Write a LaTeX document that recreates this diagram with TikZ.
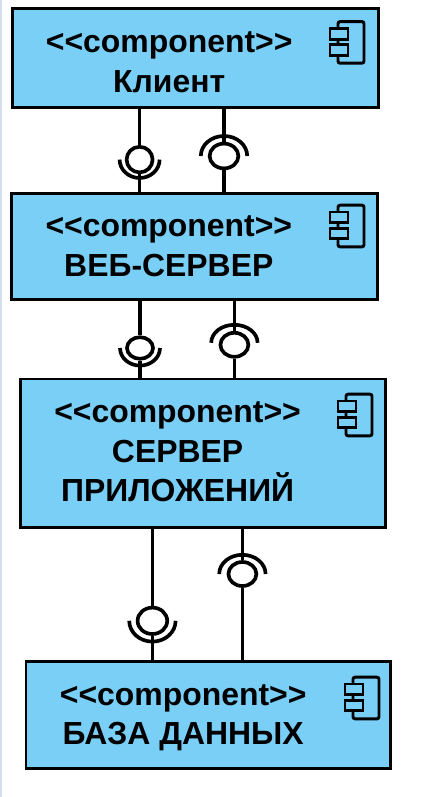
\documentclass[tikz,border=0pt]{standalone}
\usepackage{fontspec}
\setmainfont{Liberation Sans}
\usetikzlibrary{positioning, shapes.geometric}
\definecolor{compblue}{HTML}{7ACFF7}
\definecolor{edgestrip}{HTML}{D5DEEE}
\newcommand{\compstereo}{<{}<component>{}>}
\tikzset{
  box/.style = {rectangle, draw=black, fill=compblue, line width=2.1pt, inner sep=0pt},
  boxtext/.style = {align=center, font=\bfseries\fontsize{22.7}{28}\selectfont, inner sep=0pt},
  ball/.style = {ellipse, draw=black, line width=2.6pt, inner sep=0pt},
  wire/.style = {draw=black, line width=2.6pt},
  compicon/.pic = {
    \draw[line width=2.1pt, rounded corners=1.5pt] (-0.325,0.52) rectangle (0.325,-0.52);
    \draw[line width=2.1pt, fill=compblue] (-0.525,0.35) rectangle (-0.075,0.08);
    \draw[line width=2.1pt, fill=compblue] (-0.525,-0.06) rectangle (-0.075,-0.32);
  }
}

\begin{document}
\begin{tikzpicture}
\useasboundingbox (0,0) rectangle (10.775,-19.925);
\fill[edgestrip] (0,0) rectangle (0.05,-19.925);

% Boxes
\node[box, minimum width=9.15cm, minimum height=2.475cm] (n1) at (4.88,-1.44) {};
\node[box, minimum width=9.15cm, minimum height=2.65cm] (n2) at (4.87,-6.16) {};
\node[box, minimum width=9.12cm, minimum height=3.71cm] (n3) at (5.08,-11.33) {};
\node[box, minimum width=9.12cm, minimum height=2.68cm] (n4) at (5.21,-17.88) {};

% Box texts
\node[boxtext] (t1) at (4.23,-1.555) {\compstereo\\Клиент};
\node[boxtext] (t2) at (4.22,-6.16) {\compstereo\\ВЕБ-СЕРВЕР};
\node[boxtext] (t3) at (4.44,-11.3) {\compstereo\\СЕРВЕР\\ПРИЛОЖЕНИЙ};
\node[boxtext] (t4) at (4.58,-17.95) {\compstereo\\БАЗА ДАННЫХ};

% Icons
\pic at (8.775,-1.06) {compicon};
\pic at (8.775,-5.65) {compicon};
\pic at (8.975,-10.375) {compicon};
\pic at (9.15,-17.45) {compicon};

% Balls
\node[ball, minimum width=0.65cm, minimum height=0.64cm] (b1) at (3.49,-3.99) {};
\node[ball, minimum width=0.72cm, minimum height=0.62cm] (b2) at (5.6,-3.9) {};
\node[ball, minimum width=0.65cm, minimum height=0.54cm] (b3) at (3.5,-8.7) {};
\node[ball, minimum width=0.7cm, minimum height=0.6cm] (b4) at (5.86,-8.62) {};
\node[ball, minimum width=0.74cm, minimum height=0.66cm] (b5) at (3.81,-15.52) {};
\node[ball, minimum width=0.7cm, minimum height=0.6cm] (b6) at (6.06,-14.35) {};

% Sockets
\draw[wire] ([xshift=-0.5cm]b1.center) arc[start angle=180, end angle=360, x radius=0.5cm, y radius=0.46cm];
\draw[wire] ([xshift=-0.58cm]b2.center) arc[start angle=180, end angle=0, x radius=0.58cm, y radius=0.5cm];
\draw[wire] ([xshift=-0.5cm]b3.center) arc[start angle=180, end angle=360, x radius=0.5cm, y radius=0.44cm];
\draw[wire] ([xshift=-0.58cm,yshift=0.05cm]b4.center) arc[start angle=180, end angle=0, x radius=0.58cm, y radius=0.45cm];
\draw[wire] ([xshift=-0.58cm]b5.center) arc[start angle=180, end angle=360, x radius=0.58cm, y radius=0.52cm];
\draw[wire] ([xshift=-0.58cm]b6.center) arc[start angle=180, end angle=0, x radius=0.58cm, y radius=0.48cm];

% Wires
\draw[wire] (b1.north) -- (b1.north |- n1.south);
\draw[wire] (b1.south) -- (b1.south |- n2.north);
\draw[wire] (b2.north) -- (b2.north |- n1.south);
\draw[wire] (b2.south) -- (b2.south |- n2.north);
\draw[wire] (b3.north) -- (b3.north |- n2.south);
\draw[wire] (b3.south) -- (b3.south |- n3.north);
\draw[wire] (b4.north) -- (b4.north |- n2.south);
\draw[wire] (b4.south) -- (b4.south |- n3.north);
\draw[wire] (b5.north) -- (b5.north |- n3.south);
\draw[wire] (b5.south) -- (b5.south |- n4.north);
\draw[wire] (b6.north) -- (b6.north |- n3.south);
\draw[wire] (b6.south) -- (b6.south |- n4.north);

\end{tikzpicture}
\end{document}
